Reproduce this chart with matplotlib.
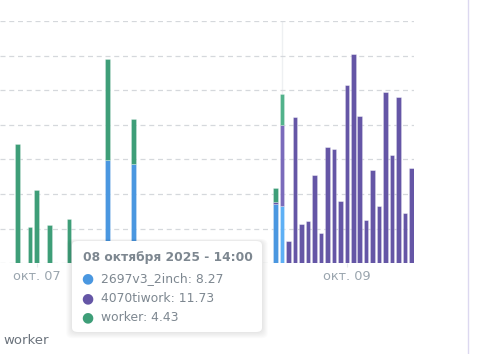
import matplotlib
matplotlib.use("Agg")
import matplotlib.pyplot as plt
import matplotlib.dates as mdates
from matplotlib.patches import FancyBboxPatch
import pandas as pd

# hourly buckets
times = ["2025-10-06 21:00", "2025-10-06 23:00", "2025-10-07 00:00", "2025-10-07 02:00",
         "2025-10-07 05:00", "2025-10-07 11:00", "2025-10-07 15:00",
         "2025-10-08 13:00", "2025-10-08 14:00", "2025-10-08 15:00", "2025-10-08 16:00",
         "2025-10-08 17:00", "2025-10-08 18:00", "2025-10-08 19:00", "2025-10-08 20:00",
         "2025-10-08 21:00", "2025-10-08 22:00", "2025-10-08 23:00", "2025-10-09 00:00",
         "2025-10-09 01:00", "2025-10-09 02:00", "2025-10-09 03:00", "2025-10-09 04:00",
         "2025-10-09 05:00", "2025-10-09 06:00", "2025-10-09 07:00", "2025-10-09 08:00",
         "2025-10-09 09:00", "2025-10-09 10:00"]
inch2697 = [0, 0, 0, 0, 0, 14.9, 14.4,
            8.6, 8.27, 0, 0, 0, 0, 0, 0, 0, 0, 0, 0,
            0, 0, 0, 0, 0, 0, 0, 0, 0, 0]
tiwork4070 = [0, 0, 0, 0, 0, 0, 0,
              0.3, 11.73, 3.2, 21.2, 5.7, 6.1, 12.8, 4.4, 16.8, 16.5, 9.0, 25.7,
              30.2, 21.3, 6.2, 13.5, 8.3, 24.7, 15.6, 24.0, 7.3, 13.7]
worker = [17.2, 5.2, 10.6, 5.6, 6.4, 14.6, 6.4,
          2.0, 4.43, 0, 0, 0, 0, 0, 0, 0, 0, 0, 0,
          0, 0, 0, 0, 0, 0, 0, 0, 0, 0]
series_names = ["2697v3_2inch", "4070tiwork", "worker"]
tick_days = ["2025-10-07", "2025-10-08", "2025-10-09"]
tick_labels = ["окт. 07", "", "окт. 09"]  # окт. 08 sits under the tooltip
hover_time = "2025-10-08 14:00"

colors = ["#4a97e0", "#6556a6", "#3e9e78"]
hover_colors = ["#5eb0f5", "#7a6bbb", "#52b28b"]

x = mdates.date2num(pd.to_datetime(times))
hx = mdates.date2num(pd.to_datetime(hover_time))
hour = 1 / 24

fig = plt.figure(figsize=(4.81, 3.54), dpi=100)
ax = fig.add_axes([0, 0.2562, 0.8597, 0.6845])

bottom = [0.0] * len(x)
for vals, c, hc in zip([inch2697, tiwork4070, worker], colors, hover_colors):
    cols = [hc if abs(xi - hx) < 1e-6 else c for xi in x]
    ax.bar(x, vals, bottom=bottom, width=0.7 * hour, color=cols,
           edgecolor=(1, 1, 1, 0.35), linewidth=0.5, zorder=3)
    bottom = [b + v for b, v in zip(bottom, vals)]

t0 = mdates.date2num(pd.to_datetime("2025-10-07 00:00"))
ax.set_xlim(t0 - 5.68 * hour, t0 + 58.33 * hour)
ax.set_ylim(0, 35)
ax.set_yticks(range(0, 36, 5))
ax.yaxis.grid(True, color="#d5d8dc", linestyle=(0, (4, 3)), linewidth=0.9, zorder=0)
ax.tick_params(axis="y", left=False, labelleft=False)
ax.set_xticks(mdates.date2num(pd.to_datetime(tick_days)))
ax.set_xticklabels(tick_labels)
ax.tick_params(axis="x", length=3, color="#e6e8eb", labelcolor="#9aa5ae", labelsize=9.3, pad=2)
for s in ax.spines.values():
    s.set_visible(False)
ax.axvline(hx, color="#eef0f2", linewidth=1, zorder=1)

# tooltip
W, H = 481, 354
tip = FancyBboxPatch((72 / W, 1 - 332 / H), 190 / W, 91 / H,
                     boxstyle="round,pad=0,rounding_size=0.012",
                     transform=fig.transFigure, facecolor="white", edgecolor="none", zorder=10)
for i in range(7):
    sh = FancyBboxPatch((72 / W - i * 0.002, 1 - 332 / H - i * 0.003), 190 / W + i * 0.004, 91 / H + i * 0.004,
                        boxstyle="round,pad=0,rounding_size=0.015",
                        transform=fig.transFigure, facecolor="black", alpha=0.014,
                        edgecolor="none", zorder=9)
    fig.patches.append(sh)
fig.patches.append(tip)
fig.text(83 / W, 1 - 257 / H, "08 октября 2025 - 14:00", fontsize=8.8, fontweight="bold",
         color="#7d8790", va="center", zorder=11)
row_vals = [8.27, 11.73, 4.43]
for i, (name, v) in enumerate(zip(series_names, row_vals)):
    yy = 1 - (278.3 + 19.7 * i) / H
    fig.text(87 / W, yy, "●", fontsize=10, color=colors[i], ha="center", va="center", zorder=11)
    fig.text(101 / W, yy, f"{name}: {v}", fontsize=8.9, color="#7d8790", va="center", zorder=11)

fig.text(3 / W, 1 - 340 / H, "worker", fontsize=9.5, color="#6b737c", va="center")
fig.add_artist(plt.Line2D([468 / W, 468 / W], [0, 1], color="#dcd8f0", linewidth=1,
                          transform=fig.transFigure))

fig.savefig("out.png", dpi=100)
